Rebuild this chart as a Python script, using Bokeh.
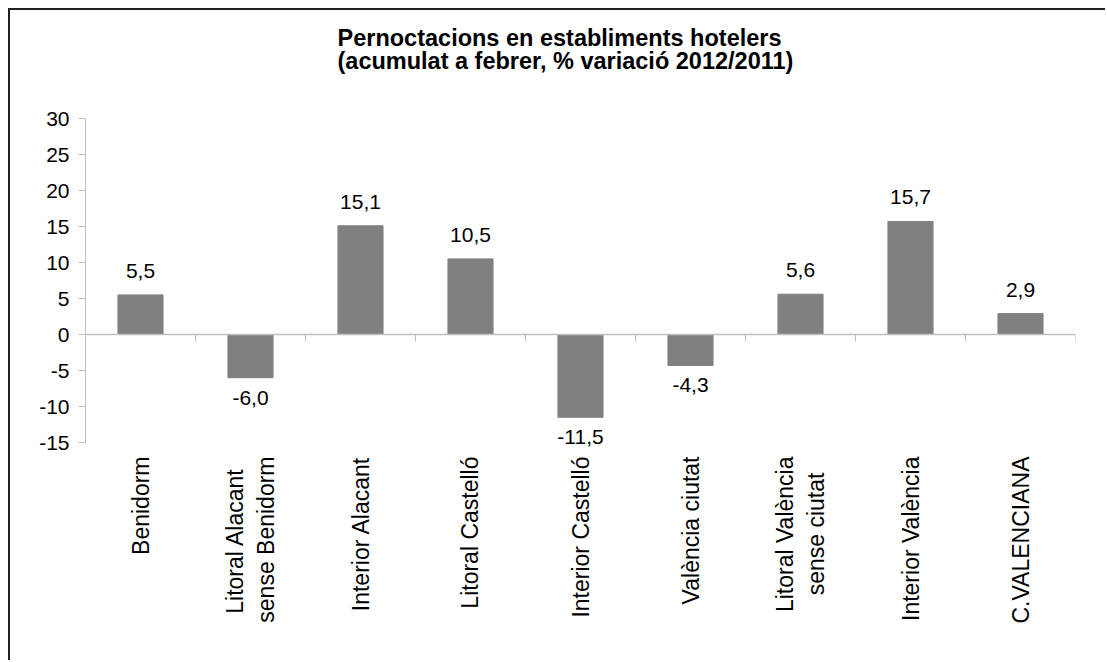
from bokeh.plotting import figure
from bokeh.models import (ColumnDataSource, Range1d, LinearAxis,
                          FixedTicker, Title, LabelSet)
from bokeh.core.properties import value
from bokeh.embed import file_html
from bokeh.resources import INLINE

title_lines = ["Pernoctacions en establiments hotelers",
               "(acumulat a febrer, % variació 2012/2011)"]
categories = ["Benidorm", "Litoral Alacant\u2002\nsense Benidorm", "Interior Alacant",
              "Litoral Castelló", "Interior Castelló", "València ciutat",
              "Litoral València\nsense ciutat\u2002\u2009", "Interior València",
              "C.VALENCIANA"]
values = [5.5, -6.0, 15.1, 10.5, -11.5, -4.3, 5.6, 15.7, 2.9]
y_ticks = [-15, -10, -5, 0, 5, 10, 15, 20, 25, 30]

FONT = "Liberation Sans"
AXIS_GRAY = "#bfbfbf"

n = len(categories)
centers = [i + 0.5 for i in range(n)]
labels = [f"{v:.1f}".replace(".", ",") for v in values]
pos = ColumnDataSource(dict(x=[c for c, v in zip(centers, values) if v >= 0],
                            top=[v for v in values if v >= 0],
                            lab=[l for l, v in zip(labels, values) if v >= 0]))
neg = ColumnDataSource(dict(x=[c for c, v in zip(centers, values) if v < 0],
                            top=[v for v in values if v < 0],
                            lab=[l for l, v in zip(labels, values) if v < 0]))

# extra room below the axis end so that the lowest data label is not clipped
PX_PER_UNIT = 7.2
EXTRA_PX = 9
y_lo = y_ticks[0] - EXTRA_PX / PX_PER_UNIT

p = figure(width=1097, height=652, output_backend="svg", toolbar_location=None,
           x_range=Range1d(0, n),
           y_range=Range1d(y_lo, y_ticks[-1]),
           min_border_left=75, min_border_right=32, min_border_top=108,
           min_border_bottom=220 - EXTRA_PX)
p.styles = {"border-top": "2px solid #222222", "border-left": "2px solid #222222",
            "margin-left": "8px", "margin-top": "8px"}
p.outline_line_color = None
p.xgrid.visible = False
p.ygrid.visible = False
p.background_fill_color = "white"
p.border_fill_color = "white"

p.vbar(x="x", top="top", bottom=0, width=0.41, source=pos, color="#808080")
p.vbar(x="x", top="top", bottom=0, width=0.41, source=neg, color="#808080")

p.add_layout(LabelSet(x="x", y="top", text="lab", source=pos, text_align="center",
                      text_baseline="alphabetic", y_offset=17,
                      text_font=value(FONT), text_font_size="21px",
                      text_color="black"))
p.add_layout(LabelSet(x="x", y="top", text="lab", source=neg, text_align="center",
                      text_baseline="top", y_offset=-13,
                      text_font=value(FONT), text_font_size="21px",
                      text_color="black"))

# y axis
ya = p.yaxis[0]
ya.ticker = FixedTicker(ticks=y_ticks)
ya.bounds = (y_ticks[0], y_ticks[-1])
ya.major_label_overrides = {t: str(t) for t in y_ticks}
ya.axis_line_color = AXIS_GRAY
ya.major_tick_line_color = AXIS_GRAY
ya.major_tick_out = 7
ya.major_tick_in = 0
ya.minor_tick_line_color = None
ya.major_label_standoff = 9
ya.major_label_text_font = FONT
ya.major_label_text_font_size = "21px"
ya.major_label_text_color = "black"

# category labels at bottom
xa = p.xaxis[0]
xa.ticker = FixedTicker(ticks=centers)
xa.major_label_overrides = {c: lab for c, lab in zip(centers, categories)}
xa.axis_line_color = None
xa.major_tick_line_color = None
xa.minor_tick_line_color = None
xa.major_tick_out = 0
xa.major_label_orientation = 1.5707963
xa.major_label_standoff = 14 - EXTRA_PX
xa.major_label_text_font = FONT
xa.major_label_text_font_size = "23px"
xa.major_label_text_color = "black"

# zero line with ticks between categories
za = LinearAxis(fixed_location=0, ticker=FixedTicker(ticks=list(range(n + 1))))
za.axis_line_color = AXIS_GRAY
za.axis_line_width = 1.5
za.major_tick_line_color = AXIS_GRAY
za.major_tick_out = 7
za.major_tick_in = 0
za.minor_tick_line_color = None
za.major_label_text_font_size = "0px"
za.major_label_text_color = None
p.add_layout(za, "below")

spacer = Title(text=" ", text_font_size="38px", standoff=0)
tt = Title(text="\n".join(title_lines), align="left", offset=252, text_font=FONT,
           text_font_size="23.5px", text_font_style="bold", text_color="black",
           text_line_height=0.9, standoff=0)
p.add_layout(spacer, "above")
p.add_layout(tt, "above")

open("out.html", "w").write(file_html(p, INLINE))
